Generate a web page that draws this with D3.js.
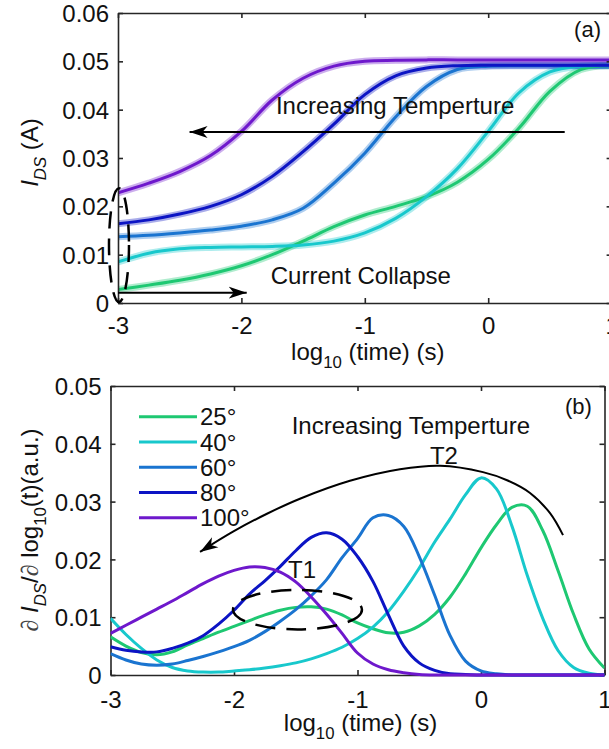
<!DOCTYPE html>
<html>
<head>
<meta charset="utf-8">
<script src="https://cdn.jsdelivr.net/npm/d3@7"></script>
<style>
  body { margin: 0; background: #fff; }
  text { font-family: "Liberation Sans", Arial, Helvetica, sans-serif; fill: #111; }
</style>
</head>
<body>
<svg id="fig" width="609" height="749"></svg>
<script>
// ---------- data ----------
const temps = ["25°", "40°", "60°", "80°", "100°"];
const colors = ["#1ec872", "#18c8cc", "#1a74d0", "#0c14c4", "#6e18cc"];

// (a) drain current vs log10(time)
const tA = [-3, -2.75, -2.5, -2.25, -2, -1.75, -1.5, -1.25, -1, -0.75, -0.5, -0.25, 0, 0.25, 0.5, 0.75, 1];
const iDS25  = [0.0028, 0.0037, 0.0047, 0.0060, 0.0077, 0.0100, 0.0128, 0.0158, 0.0182, 0.0200, 0.0220, 0.0250, 0.0297, 0.0362, 0.0438, 0.0483, 0.0491];
const iDS40  = [0.0085, 0.0103, 0.0112, 0.0115, 0.0116, 0.0117, 0.0120, 0.0128, 0.0145, 0.0175, 0.0220, 0.0278, 0.0355, 0.0435, 0.0478, 0.0490, 0.0491];
const iDS60  = [0.0137, 0.0140, 0.0145, 0.0151, 0.0159, 0.0172, 0.0196, 0.0248, 0.0310, 0.0385, 0.0448, 0.0483, 0.0490, 0.0491, 0.0491, 0.0491, 0.0491];
const iDS80  = [0.0164, 0.0172, 0.0184, 0.0200, 0.0224, 0.0262, 0.0313, 0.0370, 0.0431, 0.0470, 0.0486, 0.0491, 0.0492, 0.0492, 0.0492, 0.0492, 0.0492];
const iDS100 = [0.0228, 0.0248, 0.0272, 0.0305, 0.0355, 0.0420, 0.0465, 0.0490, 0.0500, 0.0502, 0.0503, 0.0503, 0.0503, 0.0503, 0.0503, 0.0503, 0.0503];

// (b) derivative dI/dlog10(t)
const tB = [-3, -2.875, -2.75, -2.625, -2.5, -2.375, -2.25, -2.125, -2, -1.875, -1.75, -1.625, -1.5, -1.375, -1.25, -1.125,
            -1, -0.875, -0.75, -0.625, -0.5, -0.375, -0.25, -0.125, 0, 0.125, 0.25, 0.375, 0.5, 0.625, 0.75, 0.875, 1];
const d25  = [0.0066, 0.0050, 0.0039, 0.0035, 0.0040, 0.0052, 0.0063, 0.0074, 0.0084, 0.0094, 0.0104, 0.0112, 0.0117, 0.0118, 0.0114, 0.0104,
              0.0090, 0.0080, 0.0073, 0.0074, 0.0085, 0.0105, 0.0135, 0.0175, 0.0220, 0.0260, 0.0290, 0.0292, 0.0250, 0.0180, 0.0105, 0.0045, 0.0012];
const d40  = [0.0098, 0.0070, 0.0046, 0.0026, 0.0013, 0.0007, 0.0005, 0.0005, 0.0007, 0.0009, 0.0012, 0.0016, 0.0021, 0.0028, 0.0037, 0.0048,
              0.0063, 0.0083, 0.0110, 0.0145, 0.0185, 0.0230, 0.0270, 0.0312, 0.0341, 0.0322, 0.0258, 0.0172, 0.0098, 0.0042, 0.0013, 0.0003, 0.0000];
const d60  = [0.0037, 0.0026, 0.0019, 0.0017, 0.0019, 0.0025, 0.0032, 0.0040, 0.0049, 0.0060, 0.0075, 0.0093, 0.0113, 0.0137, 0.0165, 0.0203,
              0.0236, 0.0272, 0.0276, 0.0257, 0.0205, 0.0138, 0.0068, 0.0024, 0.0007, 0.0002, 0, 0, 0, 0, 0, 0, 0];
const d80  = [0.0049, 0.0043, 0.0040, 0.0040, 0.0046, 0.0055, 0.0068, 0.0088, 0.0112, 0.0140, 0.0163, 0.0188, 0.0215, 0.0238, 0.0246, 0.0235,
              0.0205, 0.0162, 0.0104, 0.0050, 0.0021, 0.0008, 0.0002, 0.0001, 0, 0, 0, 0, 0, 0, 0, 0, 0];
const d100 = [0.0072, 0.0086, 0.0100, 0.0114, 0.0128, 0.0143, 0.0158, 0.0171, 0.0181, 0.0187, 0.0186, 0.0178, 0.0161, 0.0135, 0.0105, 0.0072,
              0.0038, 0.0019, 0.0009, 0.0004, 0.0001, 0, 0, 0, 0, 0, 0, 0, 0, 0, 0, 0, 0];

// axis ticks
const xTicks = [-3, -2, -1, 0, 1];
const xTickLabels = ["-3", "-2", "-1", "0", "1"];
const yTicksA = [0, 0.01, 0.02, 0.03, 0.04, 0.05, 0.06];
const yTickLabelsA = ["0", "0.01", "0.02", "0.03", "0.04", "0.05", "0.06"];
const yTicksB = [0, 0.01, 0.02, 0.03, 0.04, 0.05];
const yTickLabelsB = ["0", "0.01", "0.02", "0.03", "0.04", "0.05"];

// T2 guide arc (data units), drawn right to left
const arcT2 = [[0.664, 0.0242], [0.559, 0.0280], [0.397, 0.0315], [0.211, 0.0337], [0.016, 0.0351], [-0.332, 0.0362],
               [-0.656, 0.0356], [-1.061, 0.0336], [-1.466, 0.0305], [-1.733, 0.0279], [-2.008, 0.0248], [-2.275, 0.0213]];

// ---------- layout ----------
const FS = 24;
const svg = d3.select("#fig");
const xA = d3.scaleLinear().domain([-3, 1]).range([118, 611.6]);
const yA = d3.scaleLinear().domain([0, 0.06]).range([303, 13]);
const xB = d3.scaleLinear().domain([-3, 1]).range([110.5, 604.5]);
const yB = d3.scaleLinear().domain([0, 0.05]).range([675, 386]);

const defs = svg.append("defs");
defs.append("marker")
  .attr("id", "head").attr("markerUnits", "userSpaceOnUse")
  .attr("viewBox", "-18 -7 20 14").attr("refX", 0).attr("refY", 0)
  .attr("markerWidth", 20).attr("markerHeight", 14).attr("orient", "auto")
  .append("path").attr("d", "M0,0 L-18,-6 L-13,0 L-18,6 Z").attr("fill", "#000");
defs.append("clipPath").attr("id", "clipA").append("rect")
  .attr("x", 118).attr("y", 13).attr("width", 500).attr("height", 292);
defs.append("clipPath").attr("id", "clipB").append("rect")
  .attr("x", 110.5).attr("y", 386).attr("width", 494).attr("height", 291);

// rich text helper: parts = [{t, it, sub, serif, fill}]
function rich(sel, parts, size) {
  let shift = 0;
  parts.forEach(p => {
    const target = p.sub ? size * 0.32 : 0;
    const ts = sel.append("tspan").text(p.t)
      .attr("font-size", p.sub ? size * 0.7 : size)
      .attr("dy", target - shift);
    shift = target;
    if (p.it) ts.attr("font-style", "italic");
    if (p.serif) ts.attr("font-family", "'Liberation Serif','DejaVu Serif',serif");
    if (p.fill) ts.attr("fill", p.fill);
  });
  return sel;
}

function axes(g, x, y, yTicks, yLabels, xlabBase, xtBase) {
  const [yb, yt] = y.range();
  const [xl, xr] = x.range();
  const style = s => {
    s.select(".domain").attr("stroke", "#262626").attr("stroke-width", 1.6);
    s.selectAll(".tick line").attr("stroke", "#262626").attr("stroke-width", 1.6);
  };
  g.append("g").attr("transform", `translate(0,${yb})`)
    .call(d3.axisBottom(x).tickValues(xTicks).tickSizeInner(-5).tickSizeOuter(0).tickFormat((d, i) => xTickLabels[i]))
    .call(style)
    .call(s => s.selectAll(".tick text").attr("y", xtBase - yb).attr("dy", null)
      .attr("font-size", FS).attr("font-family", null).attr("fill", "#1a1a1a"));
  g.append("g").attr("transform", `translate(0,${yt})`)
    .call(d3.axisTop(x).tickValues(xTicks).tickSizeInner(-5).tickSizeOuter(0).tickFormat(""))
    .call(style);
  g.append("g").attr("transform", `translate(${xl},0)`)
    .call(d3.axisLeft(y).tickValues(yTicks).tickSizeInner(-5).tickSizeOuter(0).tickFormat((d, i) => yLabels[i]))
    .call(style)
    .call(s => s.selectAll(".tick text").attr("x", -9).attr("dy", "0.36em")
      .attr("font-size", FS).attr("font-family", null).attr("fill", "#1a1a1a"));
  g.append("g").attr("transform", `translate(${xr},0)`)
    .call(d3.axisRight(y).tickValues(yTicks).tickSizeInner(-5).tickSizeOuter(0).tickFormat(""))
    .call(style);
  const xl2 = g.append("text").attr("x", (xl + xr) / 2 + 3).attr("y", xlabBase)
    .attr("text-anchor", "middle");
  rich(xl2, [{t: "log"}, {t: "10", sub: true}, {t: " (time) (s)"}], FS);
}

// ---------- panel (a) ----------
const gA = svg.append("g");
const seriesA = [iDS25, iDS40, iDS60, iDS80, iDS100];
const lineA = d3.line().x(d => xA(d[0])).y(d => yA(d[1])).curve(d3.curveCatmullRom.alpha(0.5));
const curvesA = gA.append("g").attr("clip-path", "url(#clipA)");
// measured band (lighter, wider) under each fitted curve
seriesA.forEach((s, k) => {
  const pts = tA.map((t, i) => [t, s[i]]);
  curvesA.append("path").attr("d", lineA(pts)).attr("fill", "none")
    .attr("stroke", colors[k]).attr("stroke-opacity", 0.35).attr("stroke-width", 7);
});
seriesA.forEach((s, k) => {
  const pts = tA.map((t, i) => [t, s[i]]);
  curvesA.append("path").attr("d", lineA(pts)).attr("fill", "none")
    .attr("stroke", colors[k]).attr("stroke-width", 3);
});
axes(gA, xA, yA, yTicksA, yTickLabelsA, 360, 334.4);

const ylA = gA.append("text").attr("transform", `translate(38,152.5) rotate(-90)`).attr("text-anchor", "middle");
rich(ylA, [{t: "I", it: true}, {t: "DS", it: true, sub: true}, {t: " (A)"}], FS);

gA.append("text").attr("x", xA(0.805)).attr("y", yA(0.05502)).attr("text-anchor", "middle")
  .attr("font-size", 22).text("(a)");
gA.append("text").attr("x", xA(-1.72)).attr("y", yA(0.03903)).attr("font-size", FS).text("Increasing Temperture");
gA.append("line").attr("x1", xA(0.62)).attr("x2", xA(-2.42)).attr("y1", yA(0.0354)).attr("y2", yA(0.0354))
  .attr("stroke", "#000").attr("stroke-width", 2).attr("marker-end", "url(#head)");
gA.append("text").attr("x", xA(-1.762)).attr("y", yA(0.003926)).attr("font-size", FS).text("Current Collapse");
gA.append("line").attr("x1", xA(-3)).attr("x2", xA(-1.957)).attr("y1", yA(0.00213)).attr("y2", yA(0.00213))
  .attr("stroke", "#000").attr("stroke-width", 2).attr("marker-end", "url(#head)");
gA.append("ellipse").attr("cx", xA(-2.992)).attr("cy", yA(0.01198))
  .attr("rx", xA(-2.992 + 0.081) - xA(-2.992)).attr("ry", yA(0) - yA(0.01178))
  .attr("fill", "none").attr("stroke", "#000").attr("stroke-width", 2.5).attr("stroke-dasharray", "17,10");

// ---------- panel (b) ----------
const gB = svg.append("g");
const seriesB = [d25, d40, d60, d80, d100];
const lineB = d3.line().x(d => xB(d[0])).y(d => yB(d[1])).curve(d3.curveCatmullRom.alpha(0.5));
axes(gB, xB, yB, yTicksB, yTickLabelsB, 731, 707.8);
const curvesB = gB.append("g").attr("clip-path", "url(#clipB)");
seriesB.forEach((s, k) => {
  const pts = tB.map((t, i) => [t, s[i]]);
  curvesB.append("path").attr("d", lineB(pts)).attr("fill", "none")
    .attr("stroke", colors[k]).attr("stroke-width", 3);
});

const ylB = gB.append("text").attr("transform", `translate(38,530) rotate(-90)`).attr("text-anchor", "middle");
rich(ylB, [{t: "\u2202", serif: true, it: true, fill: "#444"}, {t: "  "}, {t: "I", it: true}, {t: "DS", it: true, sub: true},
           {t: "/"}, {t: "\u2202", serif: true, it: true, fill: "#444"}, {t: " log"}, {t: "10", sub: true}, {t: "(t)(a.u.)"}], FS);

// legend
const bx0 = xB.range()[0];
const by0 = yB.range()[1];
temps.forEach((lab, k) => {
  const yy = by0 + 30.7 + k * 25.25;
  gB.append("line").attr("x1", bx0 + 28.5).attr("x2", bx0 + 86.5).attr("y1", yy).attr("y2", yy)
    .attr("stroke", colors[k]).attr("stroke-width", 3);
  gB.append("text").attr("x", bx0 + 89.5).attr("y", yy).attr("dy", "0.36em").attr("font-size", FS).text(lab);
});

gB.append("text").attr("x", xB(0.789)).attr("y", yB(0.04521)).attr("text-anchor", "middle")
  .attr("font-size", 22).text("(b)");
gB.append("text").attr("x", xB(-1.533)).attr("y", yB(0.04173)).attr("font-size", FS).text("Increasing Temperture");
gB.append("text").attr("x", xB(-0.30)).attr("y", yB(0.03659)).attr("text-anchor", "middle").attr("font-size", FS).text("T2");
gB.append("text").attr("x", xB(-1.563)).attr("y", yB(0.01682)).attr("font-size", FS).text("T1");
gB.append("path")
  .attr("d", d3.line().x(d => xB(d[0])).y(d => yB(d[1])).curve(d3.curveCatmullRom.alpha(0.5))(arcT2))
  .attr("fill", "none").attr("stroke", "#000").attr("stroke-width", 2).attr("marker-end", "url(#head)");
gB.append("ellipse").attr("cx", xB(-1.486)).attr("cy", yB(0.0113))
  .attr("rx", xB(-1.486 + 0.522) - xB(-1.486)).attr("ry", yB(0) - yB(0.00341))
  .attr("fill", "none").attr("stroke", "#000").attr("stroke-width", 2.5).attr("stroke-dasharray", "20,11");
</script>
</body>
</html>
